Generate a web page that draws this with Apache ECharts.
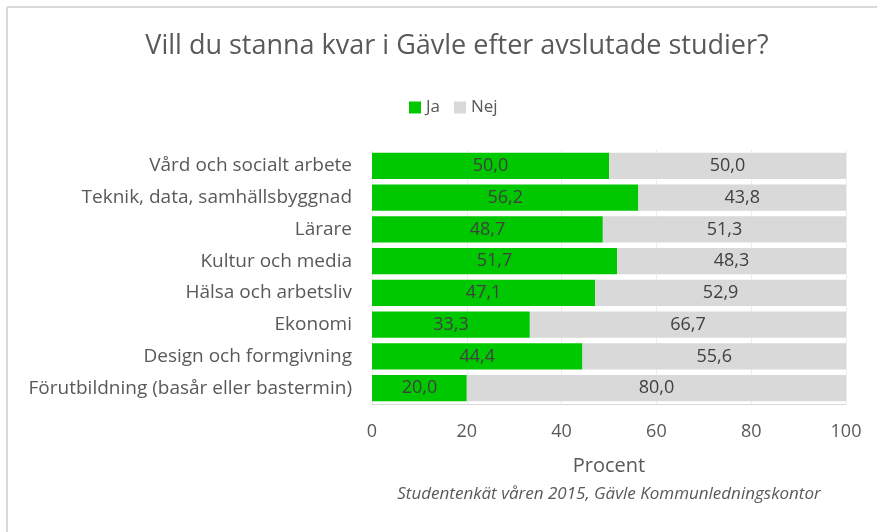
<!DOCTYPE html>
<html lang="sv">

<head>
    <meta charset="UTF-8">
    <title>Vill du stanna kvar i Gävle</title>
    <style>
        * {
            margin: 0;
            padding: 0;
        }

        #chart {
            width: 877px;
            height: 532px;
            background: #fff;
        }
    </style>
</head>

<body>
    <div id="chart"></div>

    <script src="https://cdn.jsdelivr.net/npm/echarts@6/dist/echarts.min.js"></script>
    <script>
        var categories = ['Vård och socialt arbete', 'Teknik, data, samhällsbyggnad', 'Lärare', 'Kultur och media',
            'Hälsa och arbetsliv', 'Ekonomi', 'Design och formgivning', 'Förutbildning (basår eller bastermin)'];
        var jaValues = [50.0, 56.2, 48.7, 51.7, 47.1, 33.3, 44.4, 20.0];
        var nejValues = [50.0, 43.8, 51.3, 48.3, 52.9, 66.7, 55.6, 80.0];
        var xTicks = [0, 20, 40, 60, 80, 100];

        var font = '"Open Sans", sans-serif';
        var chart = echarts.init(document.getElementById('chart'));

        function fmt(p) {
            return p.value.toFixed(1).replace('.', ',');
        }

        var option = {
            animation: false,
            textStyle: { fontFamily: font },
            title: {
                text: 'Vill du stanna kvar i Gävle efter avslutade studier?',
                left: 452,
                textAlign: 'center',
                top: 28,
                textStyle: { fontSize: 27, fontWeight: 'normal', color: '#595959', fontFamily: font }
            },
            legend: {
                data: ['Ja', 'Nej'],
                left: 404,
                top: 94,
                itemWidth: 12,
                itemHeight: 12,
                itemGap: 14,
                icon: 'rect',
                textStyle: { fontSize: 17, color: '#595959' }
            },
            grid: {
                left: 372,
                right: 31,
                top: 150,
                height: 254
            },
            xAxis: {
                type: 'value',
                min: xTicks[0],
                max: xTicks[xTicks.length - 1],
                interval: 20,
                name: 'Procent',
                nameLocation: 'middle',
                nameGap: 52,
                nameTextStyle: { fontSize: 20, color: '#595959' },
                axisLine: { show: true, lineStyle: { color: '#d9d9d9' } },
                axisTick: { show: false },
                splitLine: { show: true, lineStyle: { color: '#ececec' } },
                axisLabel: { fontSize: 18, color: '#595959', margin: 19 }
            },
            yAxis: {
                type: 'category',
                data: categories,
                inverse: true,
                axisLine: { show: false },
                axisTick: { show: false },
                axisLabel: { fontSize: 19, color: '#595959', margin: 20 }
            },
            graphic: [
                { type: 'line', shape: { x1: 7, y1: 7, x2: 877, y2: 7 }, style: { stroke: '#d9d9d9', lineWidth: 2 } },
                { type: 'line', shape: { x1: 7, y1: 7, x2: 7, y2: 532 }, style: { stroke: '#d9d9d9', lineWidth: 2 } },
                {
                    type: 'text',
                    style: {
                        text: 'Studentenkät våren 2015, Gävle Kommunledningskontor',
                        x: 609, y: 494, textAlign: 'center', textVerticalAlign: 'middle',
                        font: 'italic 17px ' + font, fill: '#595959'
                    }
                }
            ],
            series: [
                {
                    name: 'Ja',
                    type: 'bar',
                    stack: 'total',
                    data: jaValues,
                    barCategoryGap: '18%',
                    itemStyle: { color: '#00c800' },
                    label: { show: true, position: 'inside', formatter: fmt, fontSize: 18, color: '#404040' }
                },
                {
                    name: 'Nej',
                    type: 'bar',
                    stack: 'total',
                    data: nejValues,
                    barCategoryGap: '18%',
                    itemStyle: { color: '#d9d9d9' },
                    label: { show: true, position: 'inside', formatter: fmt, fontSize: 18, color: '#404040' }
                }
            ]
        };
        chart.setOption(option);
    </script>
</body>

</html>
